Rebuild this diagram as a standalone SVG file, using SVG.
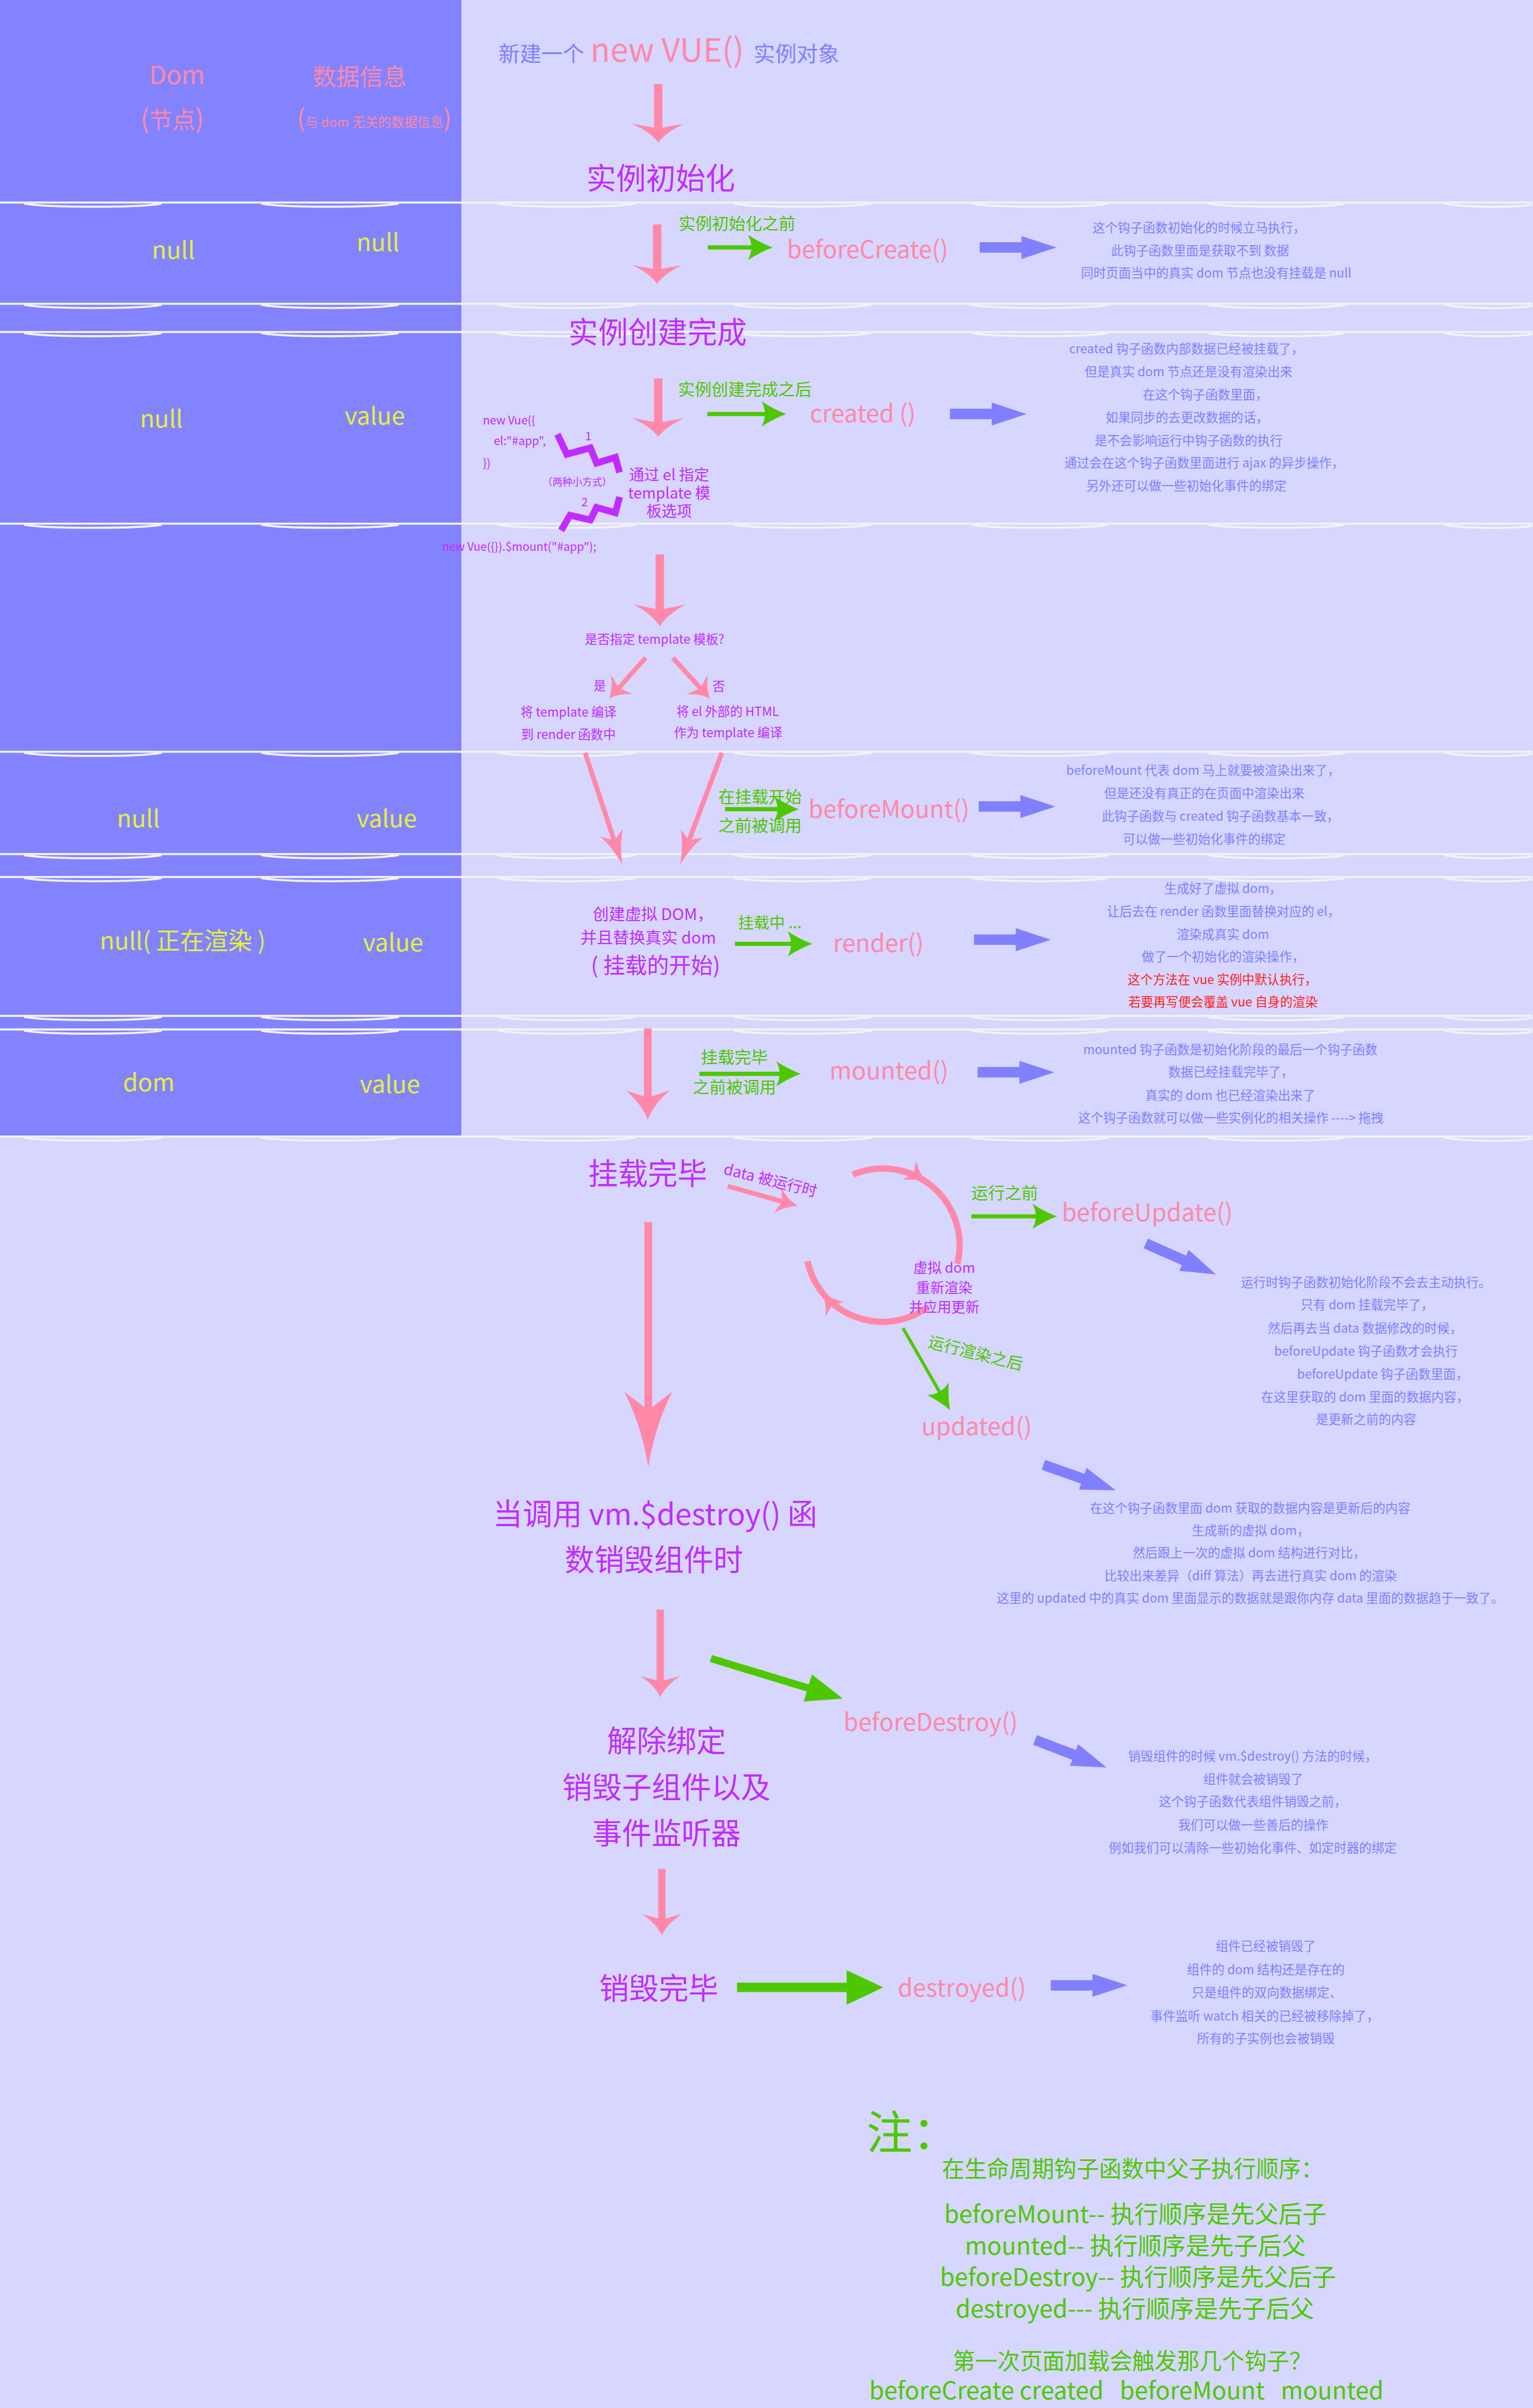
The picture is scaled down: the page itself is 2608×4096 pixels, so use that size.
<svg xmlns="http://www.w3.org/2000/svg" width="2608" height="4096" viewBox="0 0 2608 4096">
<style>
text{font-family:"Noto Sans CJK SC","Noto Sans",sans-serif}
.d{font-size:24px;fill:#8080FF;text-anchor:middle}
.r{fill:#FF2323}
.pk{font-size:46px;fill:#FF88A8;text-anchor:middle}
.pu{fill:#C02CFF}
.gr{fill:#4DC800}
.yl{font-size:46px;fill:#E6F03C;text-anchor:middle}
.t{font-size:57px;text-anchor:middle;fill:#C02CFF}
.m{text-anchor:middle}
.sep{fill:none;stroke:#F2F2F4;stroke-width:4}
.ps{stroke:#FF88A8;fill:none}
.gs{stroke:#4DC800;fill:none}
.zz{stroke:#C02CFF;fill:none;stroke-width:13;stroke-linejoin:miter}
.hp{fill:#FF88A8}
.hg{fill:#4DC800}
.hb{fill:#8080FF}
</style>
<defs>
<path id="ph" d="M0,0 Q-14,-22 -50,-40 Q-18,-34 0,-30 Q18,-34 50,-40 Q14,-22 0,0Z"/>
<path id="gh" d="M0,0 Q-24,-9 -47,-24 Q-34,0 -47,24 Q-24,9 0,0Z"/>
<path id="ba" d="M0,-10 H80 V-22 L147,0 L80,22 V10 H0Z"/>
<path id="sp" d="M0,0 H2936 M46,2 C90,10 266,10 310,2 M500,2 C544,10 720,10 764,2 M953,2 C997,10 1173,10 1217,2 M1406,2 C1450,10 1626,10 1670,2 M1860,2 C1904,10 2080,10 2124,2 M2313,2 C2357,10 2533,10 2577,2 M2766,2 C2810,10 2900,10 2936,4"/>
</defs>
<rect x="0" y="0" width="2608" height="4096" fill="#D6D6FE"/>
<g transform="scale(0.888)">
<rect x="0" y="0" width="884" height="2177" fill="#8383FF"/>
<g id="separators" class="sep">
<use href="#sp" y="388"/><use href="#sp" y="582"/><use href="#sp" y="636"/><use href="#sp" y="1003"/><use href="#sp" y="1440"/><use href="#sp" y="1636"/><use href="#sp" y="1680"/><use href="#sp" y="1946"/><use href="#sp" y="1972"/><use href="#sp" y="2177"/>
</g>
<g id="state-header">
<text x="339" y="161" class="m" style="font-size:48px;fill:#FF88A8">Dom</text>
<text x="689" y="163" class="m" style="font-size:45px;fill:#FF88A8">数据信息</text>
<text x="330" y="245" class="m" style="fill:#FF88A8"><tspan style="font-size:50px">(</tspan><tspan style="font-size:44px">节点</tspan><tspan style="font-size:50px">)</tspan></text>
<text x="717" y="243" class="m" style="fill:#FF88A8"><tspan style="font-size:46px">(</tspan><tspan style="font-size:25px">与 dom 无关的数据信息</tspan><tspan style="font-size:46px">)</tspan></text>
</g>
<g id="state-rows">
<text class="yl" x="332" y="496">null</text><text class="yl" x="724" y="481">null</text>
<text class="yl" x="309" y="819">null</text><text class="yl" x="718" y="813">value</text>
<text class="yl" x="265" y="1584">null</text><text class="yl" x="741" y="1584">value</text>
<text class="yl" x="350" y="1819">null( 正在渲染 )</text><text class="yl" x="753" y="1822">value</text>
<text class="yl" x="285" y="2090">dom</text><text class="yl" x="747" y="2093">value</text>
</g>
<g id="connectors">
<g class="ps">
<line x1="1261" y1="161" x2="1261" y2="250" stroke-width="16"/>
<line x1="1259" y1="430" x2="1259" y2="522" stroke-width="16"/>
<line x1="1261" y1="725" x2="1261" y2="815" stroke-width="16"/>
<line x1="1264" y1="1062" x2="1264" y2="1172" stroke-width="16"/>
<line x1="1237" y1="1260" x2="1180" y2="1324" stroke-width="9"/>
<line x1="1289" y1="1260" x2="1349" y2="1326" stroke-width="9"/>
<line x1="1121" y1="1442" x2="1181" y2="1623" stroke-width="9"/>
<line x1="1383" y1="1442" x2="1315" y2="1623" stroke-width="9"/>
<line x1="1241" y1="1970" x2="1241" y2="2115" stroke-width="15"/>
<line x1="1242" y1="2341" x2="1242" y2="2720" stroke-width="15"/>
<line x1="1394" y1="2272" x2="1504" y2="2303" stroke-width="9"/>
<path d="M1634,2250 A147,147 0 0 1 1834,2421" stroke-width="12"/>
<path d="M1777,2504 A147,147 0 0 1 1547,2416" stroke-width="12"/>
<line x1="1265" y1="3083" x2="1265" y2="3228" stroke-width="14"/>
<line x1="1268" y1="3580" x2="1268" y2="3685" stroke-width="14"/>
</g>
<g class="hp">
<use href="#ph" transform="translate(1261,273) scale(1,0.9)"/>
<use href="#ph" transform="translate(1259,544) scale(0.95,0.9)"/>
<use href="#ph" transform="translate(1261,837) scale(1,0.9)"/>
<use href="#ph" transform="translate(1264,1200) scale(1,1.05)"/>
<use href="#ph" transform="translate(1167,1338) rotate(41.9) scale(0.55,0.9)"/>
<use href="#ph" transform="translate(1360,1338) rotate(-42.3) scale(0.55,0.9)"/>
<use href="#ph" transform="translate(1192,1656) rotate(-18.4) scale(0.45,1.6)"/>
<use href="#ph" transform="translate(1303,1656) rotate(20.5) scale(0.45,1.6)"/>
<use href="#ph" transform="translate(1241,2145) scale(0.84,1.4)"/>
<use href="#ph" transform="translate(1242,2810) scale(0.92,3.6)"/>
<use href="#ph" transform="translate(1528,2310) rotate(-74.2) scale(0.5,1)"/>
<use href="#ph" transform="translate(1775,2265) rotate(-55) scale(0.45,1)"/>
<use href="#ph" transform="translate(1575,2476) rotate(142) scale(0.45,1)"/>
<use href="#ph" transform="translate(1265,3251) scale(0.75,1)"/>
<use href="#ph" transform="translate(1268,3707) scale(0.75,1)"/>
</g>
<g class="gs" stroke-width="8">
<line x1="1356" y1="474" x2="1450" y2="474"/>
<line x1="1355" y1="793" x2="1475" y2="793"/>
<line x1="1389" y1="1550" x2="1500" y2="1550"/>
<line x1="1408" y1="1808" x2="1525" y2="1808"/>
<line x1="1340" y1="2057" x2="1505" y2="2057"/>
<line x1="1861" y1="2330" x2="1995" y2="2330"/>
<line x1="1730" y1="2544" x2="1805" y2="2675" stroke-width="6"/>
</g>
<g class="hg">
<use href="#gh" transform="translate(1480,474)"/>
<use href="#gh" transform="translate(1506,793)"/>
<use href="#gh" transform="translate(1530,1550)"/>
<use href="#gh" transform="translate(1556,1808)"/>
<use href="#gh" transform="translate(1534,2057)"/>
<use href="#gh" transform="translate(2025,2330)"/>
<use href="#gh" transform="translate(1820,2701) rotate(60.2)"/>
<path d="M0,-7 H194 V-27 L264,0 L194,27 V7 H0Z" transform="translate(1362,3177) rotate(16.9)"/>
<path d="M0,-9 H210 V-33 L280,0 L210,33 V9 H0Z" transform="translate(1412,3807)"/>
</g>
<g class="hb">
<use href="#ba" transform="translate(1877,474)"/>
<use href="#ba" transform="translate(1820,793)"/>
<use href="#ba" transform="translate(1875,1545)"/>
<use href="#ba" transform="translate(1866,1800)"/>
<use href="#ba" transform="translate(1873,2054)"/>
<use href="#ba" transform="translate(2195,2382) rotate(23.7)"/>
<use href="#ba" transform="translate(1999,2806) rotate(19.4)"/>
<use href="#ba" transform="translate(1983,3333) rotate(21)"/>
<use href="#ba" transform="translate(2013,3803)"/>
</g>
<polyline class="zz" points="1068,832 1086,870 1131,858 1143,887 1179,876 1187,905"/>
<polyline class="zz" points="1187,952 1179,982 1143,972 1131,996 1092,987 1075,1016"/>
</g>
<g id="new-vue">
<text x="955" y="118" style="font-size:41px;fill:#8080FF">新建一个</text>
<text x="1131" y="118" style="font-size:62px;fill:#FF88A8">new VUE()</text>
<text x="1444" y="118" style="font-size:41px;fill:#8080FF">实例对象</text>
</g>
<g id="init"><text class="t" x="1266" y="363">实例初始化</text></g>
<g id="beforeCreate">
<text class="gr m" x="1412" y="440" style="font-size:32px">实例初始化之前</text>
<text class="pk" x="1662" y="494">beforeCreate()</text>
<text class="d" x="2297" y="445">这个钩子函数初始化的时候立马执行，</text>
<text class="d" x="2299" y="489">此钩子函数里面是获取不到 数据</text>
<text class="d" x="2330" y="531">同时页面当中的真实 dom 节点也没有挂载是 null</text>
</g>
<g id="created-title"><text class="t" x="1260" y="658">实例创建完成</text></g>
<g id="created">
<text class="gr m" x="1427" y="758" style="font-size:32px">实例创建完成之后</text>
<text class="pk" x="1653" y="808">created ()</text>
<text class="d" x="2273" y="677">created 钩子函数内部数据已经被挂载了，</text>
<text class="d" x="2277" y="721">但是真实 dom 节点还是没有渲染出来</text>
<text class="d" x="2309" y="765">在这个钩子函数里面，</text>
<text class="d" x="2274" y="808">如果同步的去更改数据的话，</text>
<text class="d" x="2277" y="852">是不会影响运行中钩子函数的执行</text>
<text class="d" x="2307" y="895">通过会在这个钩子函数里面进行 ajax 的异步操作，</text>
<text class="d" x="2273" y="939">另外还可以做一些初始化事件的绑定</text>
</g>
<g id="el-options" class="pu">
<text x="925" y="813" style="font-size:22px">new Vue({</text>
<text x="946" y="853" style="font-size:22px">el:"#app",</text>
<text x="925" y="895" style="font-size:22px">})</text>
<text x="1121" y="843" style="font-size:22px">1</text>
<text x="1114" y="970" style="font-size:22px">2</text>
<text class="m" x="1106" y="930" style="font-size:19px">（两种小方式）</text>
<text class="m" x="1282" y="920" style="font-size:29px">通过 el 指定</text>
<text class="m" x="1282" y="955" style="font-size:29px">template 模</text>
<text class="m" x="1282" y="990" style="font-size:29px">板选项</text>
<text x="847" y="1055" style="font-size:22px">new Vue({}).$mount("#app");</text>
</g>
<g id="template-check" class="pu">
<text class="m" x="1254" y="1233" style="font-size:24px">是否指定 template 模板?</text>
<text class="m" x="1149" y="1322" style="font-size:24px">是</text>
<text class="m" x="1377" y="1323" style="font-size:24px">否</text>
<text class="m" x="1089" y="1373" style="font-size:24px">将 template 编译</text>
<text class="m" x="1089" y="1415" style="font-size:24px">到 render 函数中</text>
<text class="m" x="1394" y="1372" style="font-size:24px">将 el 外部的 HTML</text>
<text class="m" x="1395" y="1412" style="font-size:24px">作为 template 编译</text>
</g>
<g id="beforeMount">
<text class="gr m" x="1456" y="1538" style="font-size:32px">在挂载开始</text>
<text class="gr m" x="1456" y="1594" style="font-size:32px">之前被调用</text>
<text class="pk" x="1703" y="1567">beforeMount()</text>
<text class="d" x="2305" y="1484">beforeMount 代表 dom 马上就要被渲染出来了，</text>
<text class="d" x="2307" y="1528">但是还没有真正的在页面中渲染出来</text>
<text class="d" x="2338" y="1572">此钩子函数与 created 钩子函数基本一致，</text>
<text class="d" x="2307" y="1616">可以做一些初始化事件的绑定</text>
</g>
<g id="render">
<text class="pu m" x="1251" y="1762" style="font-size:31px">创建虚拟 DOM，</text>
<text class="pu m" x="1242" y="1807" style="font-size:31px">并且替换真实 dom</text>
<text class="pu m" x="1256" y="1865" style="font-size:42px">( 挂载的开始)</text>
<text class="gr" x="1414" y="1778" style="font-size:30px">挂载中 ...</text>
<text class="pk" x="1683" y="1823">render()</text>
<text class="d" x="2343" y="1711">生成好了虚拟 dom，</text>
<text class="d" x="2344" y="1754">让后去在 render 函数里面替换对应的 el，</text>
<text class="d" x="2343" y="1798">渲染成真实 dom</text>
<text class="d" x="2343" y="1841">做了一个初始化的渲染操作，</text>
<text class="d r" x="2342" y="1885">这个方法在 vue 实例中默认执行，</text>
<text class="d r" x="2343" y="1928">若要再写便会覆盖 vue 自身的渲染</text>
</g>
<g id="mounted">
<text class="gr m" x="1407" y="2037" style="font-size:32px">挂载完毕</text>
<text class="gr m" x="1407" y="2095" style="font-size:32px">之前被调用</text>
<text class="pk" x="1703" y="2068">mounted()</text>
<text class="d" x="2357" y="2019">mounted 钩子函数是初始化阶段的最后一个钩子函数</text>
<text class="d" x="2358" y="2062">数据已经挂载完毕了，</text>
<text class="d" x="2357" y="2107">真实的 dom 也已经渲染出来了</text>
<text class="d" x="2358" y="2150">这个钩子函数就可以做一些实例化的相关操作 ----&gt; 拖拽</text>
</g>
<g id="mounted-done"><text class="t" x="1241" y="2269">挂载完毕</text></g>
<g id="update-loop">
<text class="pu m" transform="translate(1476,2261) rotate(14)" x="0" y="10" style="font-size:29px">data 被运行时</text>
<text class="pu m" x="1809" y="2438" style="font-size:27px">虚拟 dom</text>
<text class="pu m" x="1809" y="2476" style="font-size:27px">重新渲染</text>
<text class="pu m" x="1809" y="2514" style="font-size:27px">并应用更新</text>
<text class="gr m" transform="translate(1869,2592) rotate(14)" x="0" y="11" style="font-size:31px">运行渲染之后</text>
</g>
<g id="beforeUpdate">
<text class="gr m" x="1925" y="2297" style="font-size:32px">运行之前</text>
<text class="pk" x="2198" y="2339">beforeUpdate()</text>
<text class="d" x="2617" y="2465">运行时钩子函数初始化阶段不会去主动执行。</text>
<text class="d" x="2619" y="2508">只有 dom 挂载完毕了，</text>
<text class="d" x="2615" y="2553">然后再去当 data 数据修改的时候，</text>
<text class="d" x="2617" y="2597">beforeUpdate 钩子函数才会执行</text>
<text class="d" x="2649" y="2641">beforeUpdate 钩子函数里面，</text>
<text class="d" x="2615" y="2685">在这里获取的 dom 里面的数据内容，</text>
<text class="d" x="2617" y="2728">是更新之前的内容</text>
</g>
<g id="updated">
<text class="pk" x="1871" y="2749">updated()</text>
<text class="d" x="2395" y="2897">在这个钩子函数里面 dom 获取的数据内容是更新后的内容</text>
<text class="d" x="2396" y="2940">生成新的虚拟 dom，</text>
<text class="d" x="2393" y="2983">然后跟上一次的虚拟 dom 结构进行对比，</text>
<text class="d" x="2396" y="3027">比较出来差异（diff 算法）再去进行真实 dom 的渲染</text>
<text class="d" x="2395" y="3070">这里的 updated 中的真实 dom 里面显示的数据就是跟你内存 data 里面的数据趋于一致了。</text>
</g>
<g id="destroy-call">
<text class="t" x="1255" y="2921">当调用 vm.$destroy() 函</text>
<text class="t" x="1253" y="3009">数销毁组件时</text>
</g>
<g id="beforeDestroy">
<text class="pk" x="1783" y="3315">beforeDestroy()</text>
<text class="d" x="2400" y="3373">销毁组件的时候  vm.$destroy() 方法的时候，</text>
<text class="d" x="2401" y="3417">组件就会被销毁了</text>
<text class="d" x="2400" y="3460">这个钩子函数代表组件销毁之前，</text>
<text class="d" x="2401" y="3504">我们可以做一些善后的操作</text>
<text class="d" x="2400" y="3548">例如我们可以清除一些初始化事件、如定时器的绑定</text>
</g>
<g id="unbind">
<text class="t" x="1277" y="3356">解除绑定</text>
<text class="t" x="1277" y="3445">销毁子组件以及</text>
<text class="t" x="1277" y="3533">事件监听器</text>
</g>
<g id="destroy-done"><text class="t" x="1262" y="3830">销毁完毕</text></g>
<g id="destroyed">
<text class="pk" x="1843" y="3824">destroyed()</text>
<text class="d" x="2425" y="3737">组件已经被销毁了</text>
<text class="d" x="2425" y="3781">组件的 dom 结构还是存在的</text>
<text class="d" x="2427" y="3826">只是组件的双向数据绑定、</text>
<text class="d" x="2423" y="3870">事件监听 watch 相关的已经被移除掉了，</text>
<text class="d" x="2425" y="3913">所有的子实例也会被销毁</text>
</g>
<g id="notes" class="gr">
<text x="1660" y="4117" style="font-size:88px">注：</text>
<text class="m" x="2170" y="4170" style="font-size:43px">在生命周期钩子函数中父子执行顺序：</text>
<text class="m" x="2175" y="4258" style="font-size:46px">beforeMount-- 执行顺序是先父后子</text>
<text class="m" x="2175" y="4319" style="font-size:46px">mounted-- 执行顺序是先子后父</text>
<text class="m" x="2180" y="4378" style="font-size:46px">beforeDestroy-- 执行顺序是先父后子</text>
<text class="m" x="2174" y="4439" style="font-size:46px">destroyed--- 执行顺序是先子后父</text>
<text class="m" x="2169" y="4538" style="font-size:43px">第一次页面加载会触发那几个钩子？</text>
<text class="m" x="2158" y="4596" style="font-size:46px" xml:space="preserve">beforeCreate created   beforeMount   mounted</text>
</g>
</g>
</svg>
